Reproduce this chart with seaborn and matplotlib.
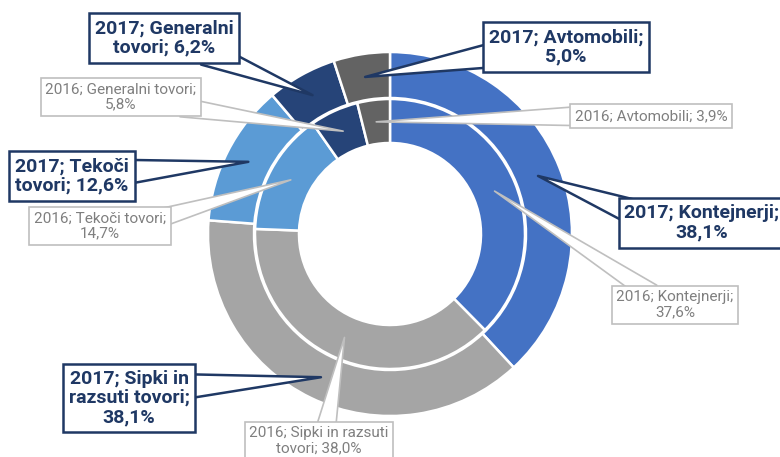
import numpy as np
import matplotlib
matplotlib.use("Agg")
import matplotlib.pyplot as plt
import seaborn as sns

# categories in clockwise order from 12 o'clock
categories = ["Kontejnerji", "Sipki in razsuti tovori", "Tekoči tovori", "Generalni tovori", "Avtomobili"]
share_2017 = [38.1, 38.1, 12.6, 6.2, 5.0]
share_2016 = [37.6, 38.0, 14.7, 5.8, 3.9]
colors = ["#4472C4", "#A5A5A5", "#5B9BD5", "#264478", "#636363"]

# label templates (line breaks as in the original)
labels_2017 = ["2017; Kontejnerji;\n{}", "2017; Sipki in\nrazsuti tovori;\n{}", "2017; Tekoči\ntovori; {}",
               "2017; Generalni\ntovori; {}", "2017; Avtomobili;\n{}"]
labels_2016 = ["2016; Kontejnerji;\n{}", "2016; Sipki in razsuti\ntovori; {}", "2016; Tekoči tovori;\n{}",
               "2016; Generalni tovori;\n{}", "2016; Avtomobili; {}"]

# box centres (pixels) and where the pointer leaves the box
pos_2017 = [(702, 223), (129, 398), (72, 176), (164, 38), (566, 47)]
rel_2017 = [(0.05, 0.8), (0.95, 0.7), (0.95, 0.6), (0.8, 0.1), (0.05, 0.3)]
pos_2016 = [(675, 305), (319, 441), (100, 226), (121, 97), (651, 116)]
rel_2016 = [(0.3, 0.9), (0.55, 0.95), (0.9, 0.7), (0.9, 0.15), (0.05, 0.5)]

sns.set_theme(style="white")
plt.rcParams['font.family'] = ['Roboto', 'DejaVu Sans']

W, H = 780, 457
cx, cy = 390, 234
r_out, w_out = 182, 46
r_in, w_in = 135, 44

fig = plt.figure(figsize=(7.8, 4.57), dpi=100)
ax = fig.add_axes([0, 0, 1, 1])

# y axis is flipped so pixel coordinates can be used directly;
# counterclock=True then draws clockwise on screen
wedges_out, _ = ax.pie(share_2017, colors=colors, radius=r_out, center=(cx, cy),
                       startangle=-90, counterclock=True,
                       wedgeprops=dict(width=w_out, edgecolor="white", linewidth=1.8))
wedges_in, _ = ax.pie(share_2016, colors=colors, radius=r_in, center=(cx, cy),
                      startangle=-90, counterclock=True,
                      wedgeprops=dict(width=w_in, edgecolor="white", linewidth=1.8))
ax.set_xlim(0, W)
ax.set_ylim(H, 0)
ax.set_aspect("equal")
ax.axis("off")


def fmt(v):
    return f"{v:.1f}".replace(".", ",") + "%"


def callout(wedge, r_mid, text, xy_text, relpos, big):
    ang = np.deg2rad((wedge.theta1 + wedge.theta2) / 2)
    target = (cx + r_mid * np.cos(ang), cy + r_mid * np.sin(ang))
    if big:
        tc, ec, fs, fw, lw, tw = "#1F3864", "#1F3864", 14, "bold", 1.8, 1.8
    else:
        tc, ec, fs, fw, lw, tw = "#7F7F7F", "#BFBFBF", 11, "normal", 1.2, 1.4
    ax.annotate(text, xy=target, xytext=xy_text, ha="center", va="center",
                multialignment="center", color=tc, fontsize=fs, fontweight=fw,
                linespacing=1.1, annotation_clip=False, zorder=5,
                bbox=dict(boxstyle="square,pad=0.3", fc="white", ec=ec, lw=lw),
                arrowprops=dict(arrowstyle=f"wedge,tail_width={tw}", fc="white", ec=ec,
                                lw=lw, shrinkA=0, shrinkB=0, patchA=None,
                                relpos=relpos, mutation_scale=10))


for i in range(len(categories)):
    callout(wedges_in[i], r_in - w_in / 2, labels_2016[i].format(fmt(share_2016[i])),
            pos_2016[i], rel_2016[i], False)
for i in range(len(categories)):
    callout(wedges_out[i], r_out - w_out / 2, labels_2017[i].format(fmt(share_2017[i])),
            pos_2017[i], rel_2017[i], True)

fig.savefig("out.png", dpi=100)
